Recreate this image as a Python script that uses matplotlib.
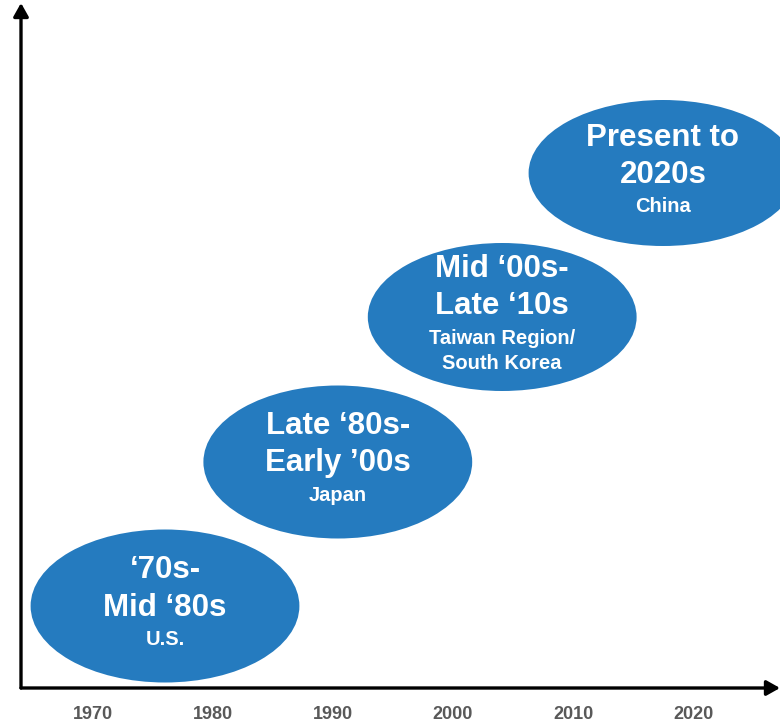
import matplotlib
matplotlib.use("Agg")
import matplotlib.pyplot as plt
from matplotlib.patches import Ellipse

# ---- data ----
tick_years = [1970, 1980, 1990, 2000, 2010, 2020]
era_titles = ["\u201870s-\nMid \u201880s", "Late \u201880s-\nEarly \u201900s",
              "Mid \u201800s-\nLate \u201810s", "Present to\n2020s"]
era_regions = ["U.S.", "Japan", "Taiwan Region/\nSouth Korea", "China"]
era_center_year = [1976.0, 1990.4, 2004.1, 2017.5]
era_level = [82, 226, 371, 515]          # vertical position (arbitrary units)
era_span_years = [22.4, 22.4, 22.4, 22.4]
era_height = [153, 153, 148, 146]

BLUE = "#257bbf"
DPI = 100
fig = plt.figure(figsize=(7.8, 7.25), dpi=DPI)
W, H = 780, 725
ax = fig.add_axes([21 / W, (H - 688) / H, (780 - 21) / W, (688 - 3) / H])
ax.set_xlim(1964, 2027.25)
ax.set_ylim(0, 685)
for s in ax.spines.values():
    s.set_visible(False)
ax.set_yticks([])
ax.set_xticks(tick_years)
ax.set_xticklabels([str(y) for y in tick_years], family="Liberation Sans",
                   fontweight="bold", fontsize=13, color="#595959")
ax.tick_params(axis="x", length=0, pad=13)

# axes arrows
ax.annotate("", xy=(1.0, 0), xytext=(0, 0), xycoords="axes fraction",
            arrowprops=dict(arrowstyle="-|>,head_length=0.8,head_width=0.45",
                            color="black", lw=2.4, shrinkA=0, shrinkB=0))
ax.annotate("", xy=(0, 1.0), xytext=(0, 0), xycoords="axes fraction",
            arrowprops=dict(arrowstyle="-|>,head_length=0.8,head_width=0.45",
                            color="black", lw=2.4, shrinkA=0, shrinkB=0))

px = 72.0 / DPI
for xc, yc, w, h, title, region in zip(era_center_year, era_level, era_span_years,
                                        era_height, era_titles, era_regions):
    ax.add_patch(Ellipse((xc, yc), w, h, facecolor=BLUE, edgecolor="none",
                         clip_on=False, zorder=2))
    tlines = title.split("\n")
    rlines = region.split("\n")
    offs = []
    y = 0
    for i in range(len(tlines)):
        offs.append(y)
        y += 37
    y += -37 + 32
    for i in range(len(rlines)):
        offs.append(y)
        y += 25
    total = offs[-1]
    shift = -total / 2 - 1
    lines = tlines + rlines
    for i, (ln, o) in enumerate(zip(lines, offs)):
        big = i < len(tlines)
        ax.annotate(ln, (xc, yc), xytext=(0, -(o + shift) * px), textcoords="offset points",
                    ha="center", va="center", color="white", fontweight="bold",
                    family="Liberation Sans", fontsize=22.5 if big else 14.5,
                    zorder=3, annotation_clip=False)

fig.savefig("out.png", dpi=DPI)
